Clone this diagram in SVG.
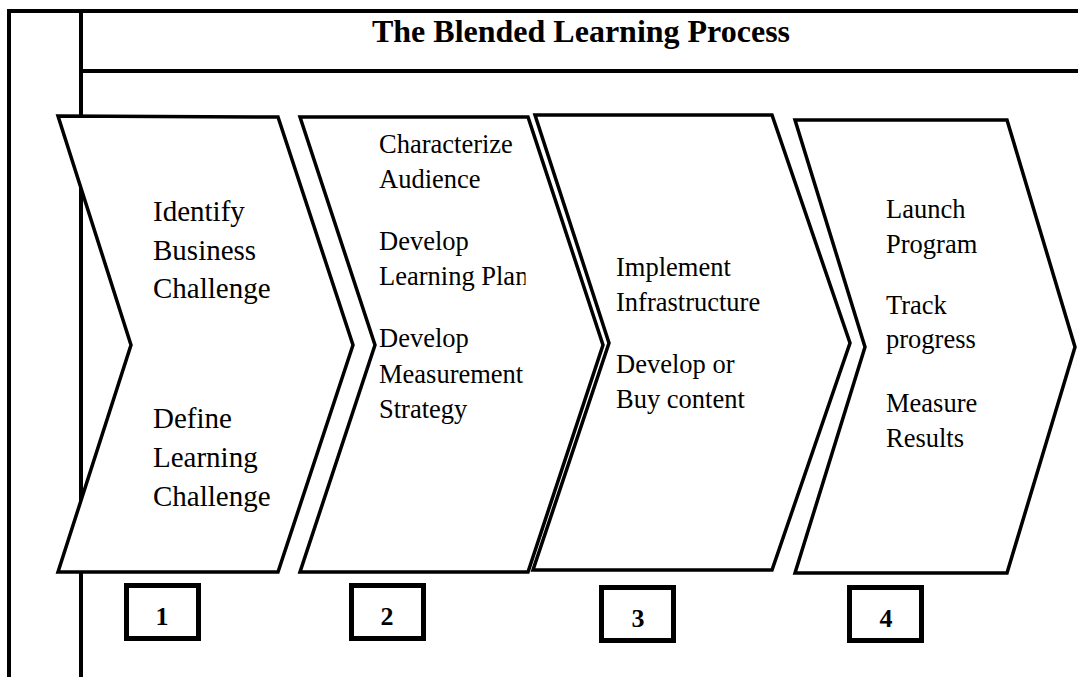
<svg xmlns="http://www.w3.org/2000/svg" width="1078" height="677" viewBox="0 0 1078 677">
<style>
.frame{stroke:#000;stroke-width:4;fill:none}
.chev{fill:#fff;stroke:#000;stroke-width:3.5;stroke-linejoin:miter}
.t1{font-family:"Liberation Serif","Times New Roman",serif;font-size:29px;fill:#000}
.t{font-family:"Liberation Serif","Times New Roman",serif;font-size:26.5px;fill:#000}
.title{font-family:"Liberation Serif","Times New Roman",serif;font-size:32px;font-weight:bold;fill:#000}
.box{fill:#fff;stroke:#000;stroke-width:5}
.num{font-family:"Liberation Serif","Times New Roman",serif;font-size:26px;font-weight:bold;fill:#000;text-anchor:middle}
</style>
<defs>
<clipPath id="clip2"><rect x="300" y="110" width="225.5" height="470"/></clipPath>
</defs>
<rect width="1078" height="677" fill="#fff"/>
<g id="frame">
<line class="frame" x1="7" y1="11" x2="1078" y2="11"/>
<line class="frame" x1="9" y1="9" x2="9" y2="677"/>
<line class="frame" x1="81" y1="11" x2="81" y2="677"/>
<line class="frame" x1="81" y1="71" x2="1078" y2="71"/>
<text class="title" x="581" y="42" text-anchor="middle">The Blended Learning Process</text>
</g>
<g id="connectors"></g>
<g id="step1">
<polygon class="chev" points="58,116 278,117 353,345 278,572 58,572 131,345"/>
<text class="t1"><tspan x="153" y="221">Identify</tspan><tspan x="153" y="260">Business</tspan><tspan x="153" y="298">Challenge</tspan><tspan x="153" y="428">Define</tspan><tspan x="153" y="467">Learning</tspan><tspan x="153" y="506">Challenge</tspan></text>
</g>
<g id="step2">
<polygon class="chev" points="300,117 528,117 603,345 528,572 300,572 375,345"/>
<text class="t" clip-path="url(#clip2)"><tspan x="379" y="153">Characterize</tspan><tspan x="379" y="188">Audience</tspan><tspan x="379" y="250">Develop</tspan><tspan x="379" y="285">Learning Plan</tspan><tspan x="379" y="347">Develop</tspan><tspan x="379" y="383">Measurement</tspan><tspan x="379" y="418">Strategy</tspan></text>
</g>
<g id="step3">
<polygon class="chev" points="535,115 772,115 850,343 772,570 533,570 609,343"/>
<text class="t"><tspan x="616" y="276">Implement</tspan><tspan x="616" y="311">Infrastructure</tspan><tspan x="616" y="373">Develop or</tspan><tspan x="616" y="408">Buy content</tspan></text>
</g>
<g id="step4">
<polygon class="chev" points="795,120 1007,120 1075,347 1007,573 795,573 865,347"/>
<text class="t"><tspan x="886" y="218">Launch</tspan><tspan x="886" y="253">Program</tspan><tspan x="886" y="314">Track</tspan><tspan x="886" y="348">progress</tspan><tspan x="886" y="412">Measure</tspan><tspan x="886" y="447">Results</tspan></text>
</g>
<g id="num1"><rect class="box" x="126.5" y="585.5" width="72" height="53"/><text class="num" x="162" y="625">1</text></g>
<g id="num2"><rect class="box" x="351.5" y="585.5" width="72" height="53"/><text class="num" x="387" y="625">2</text></g>
<g id="num3"><rect class="box" x="601.5" y="587.5" width="72" height="53"/><text class="num" x="638" y="627">3</text></g>
<g id="num4"><rect class="box" x="849.5" y="587.5" width="72" height="53"/><text class="num" x="886" y="627">4</text></g>
</svg>
